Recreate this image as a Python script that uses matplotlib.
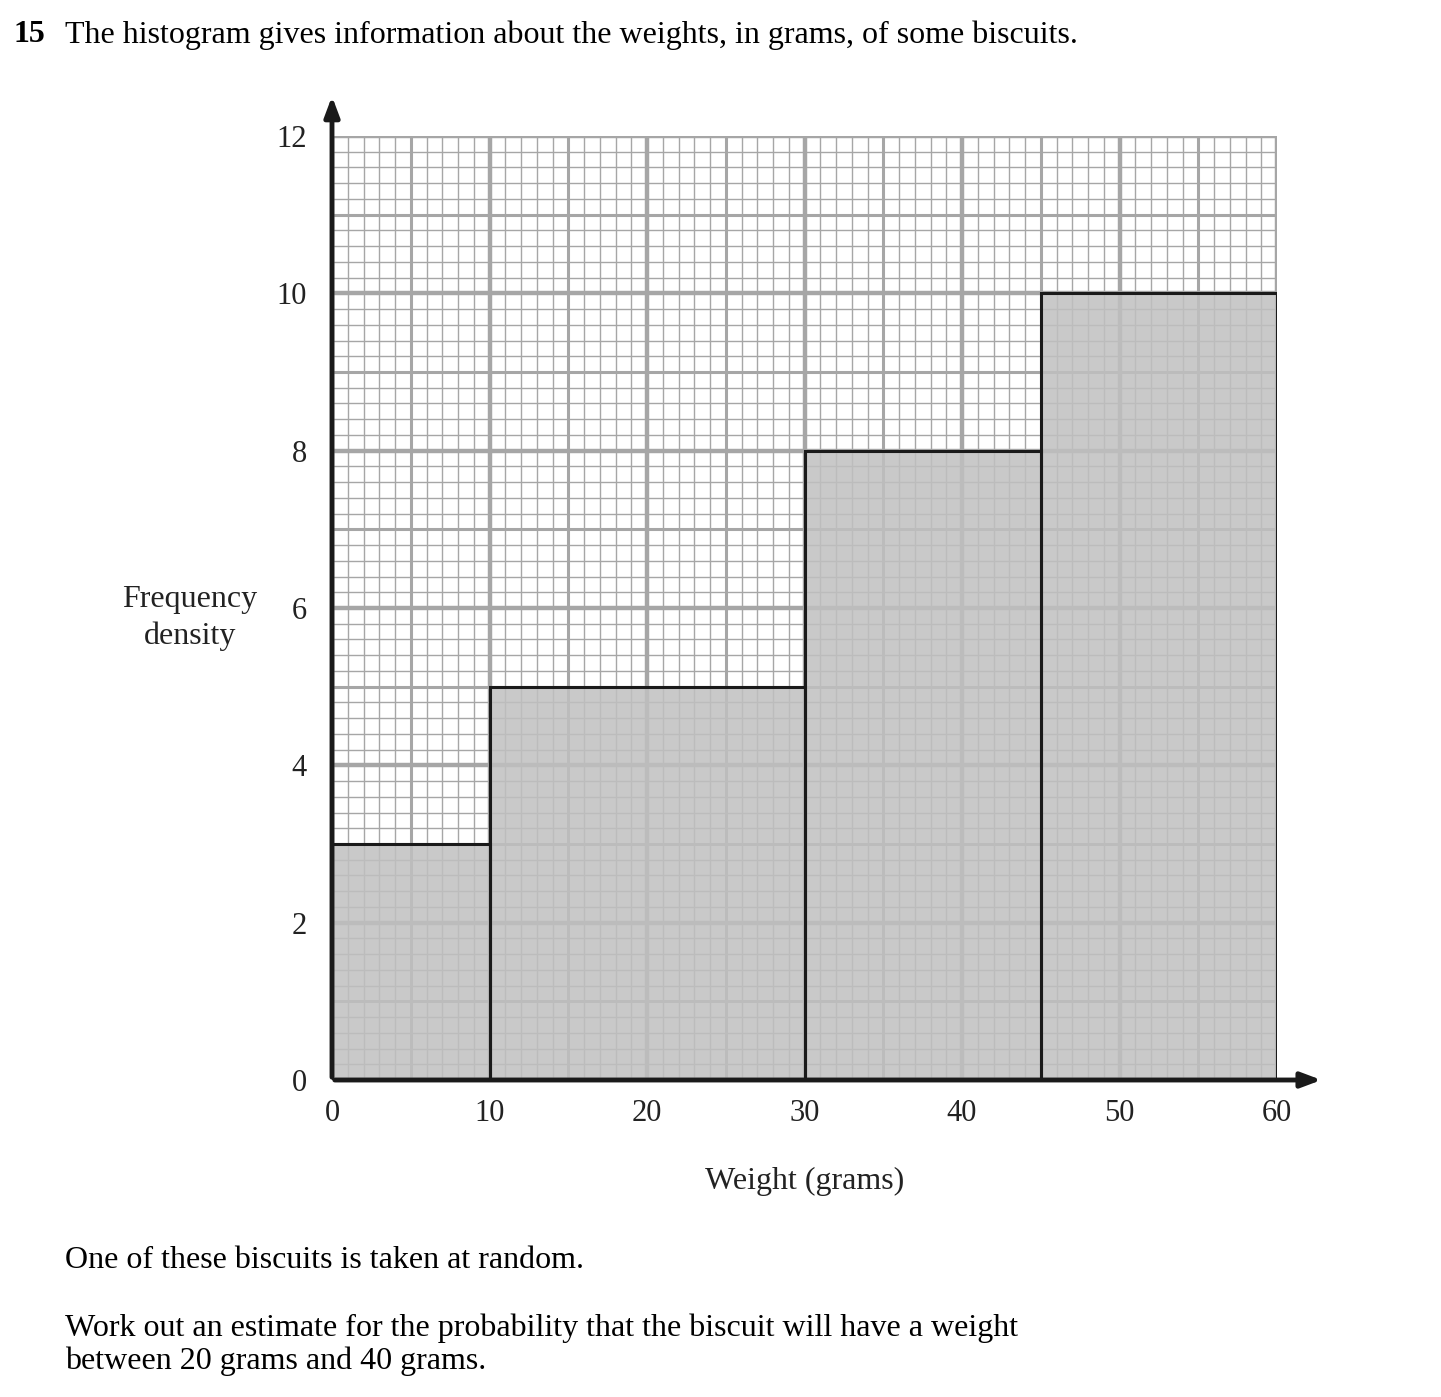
import matplotlib.pyplot as plt
import numpy as np

plt.rcParams['font.family'] = ['Liberation Serif', 'DejaVu Serif']

# histogram classes (grams) and frequency density
edges = [0, 10, 30, 45, 60]
density = [3, 5, 8, 10]
xticks = [0, 10, 20, 30, 40, 50, 60]
yticks = [0, 2, 4, 6, 8, 10, 12]

fig = plt.figure(figsize=(14.41, 13.97), dpi=100)
ax = fig.add_axes([332/1441, 1 - 1080/1397, 945/1441, 944/1397])
ax.set_xlim(0, 60)
ax.set_ylim(0, 12)

g = '#a6a6a6'
# grid: minor, medium, major
for x in np.arange(0, 61, 1):
    lw = 3.2 if x % 10 == 0 else (2.2 if x % 5 == 0 else 1.0)
    ax.axvline(x, color=g, lw=lw, zorder=1)
for y in np.arange(0, 12.01, 0.2):
    yi = round(y, 1)
    lw = 3.2 if yi % 2 == 0 else (2.2 if abs(yi - round(yi)) < 1e-6 else 1.0)
    ax.axhline(yi, color=g, lw=lw, zorder=1)

lefts = edges[:-1]
widths = np.diff(edges)
ax.bar(lefts, density, width=widths, align='edge', color='#c0c0c0', alpha=0.85,
       edgecolor='none', zorder=2)
ax.bar(lefts, density, width=widths, align='edge', fill=False,
       edgecolor='#1a1a1a', lw=2.2, zorder=3)

for s in ax.spines.values():
    s.set_visible(False)
ax.tick_params(length=0, labelsize=22, pad=14, colors='#222222')
ax.set_xticks(xticks)
ax.set_yticks(yticks)
ax.tick_params(axis='y', pad=18)

# axes with arrows
ax.annotate('', xy=(1.05, 0), xytext=(0, 0), xycoords='axes fraction',
            arrowprops=dict(arrowstyle='-|>,head_length=1.2,head_width=0.45',
                            color='#1a1a1a', lw=3.5), annotation_clip=False, zorder=5)
ax.annotate('', xy=(0, 1.045), xytext=(0, 0), xycoords='axes fraction',
            arrowprops=dict(arrowstyle='-|>,head_length=1.2,head_width=0.45',
                            color='#1a1a1a', lw=3.5), annotation_clip=False, zorder=5)

ax.set_xlabel('Weight (grams)', fontsize=23, labelpad=28, color='#222222')
fig.text(190/1441, 1 - 618/1397, 'Frequency\ndensity', fontsize=23, ha='center',
         va='center', color='#222222', linespacing=1.3)

fig.text(14/1441, 1 - 35/1397, '15', fontsize=23, fontweight='bold', va='center')
fig.text(65/1441, 1 - 35/1397,
         'The histogram gives information about the weights, in grams, of some biscuits.',
         fontsize=23, va='center')
fig.text(65/1441, 1 - 1260/1397, 'One of these biscuits is taken at random.',
         fontsize=23, va='center')
fig.text(65/1441, 1 - 1345/1397,
         'Work out an estimate for the probability that the biscuit will have a weight\n'
         'between 20 grams and 40 grams.', fontsize=23, va='center', linespacing=1.15)

fig.savefig('out.png', dpi=100)
